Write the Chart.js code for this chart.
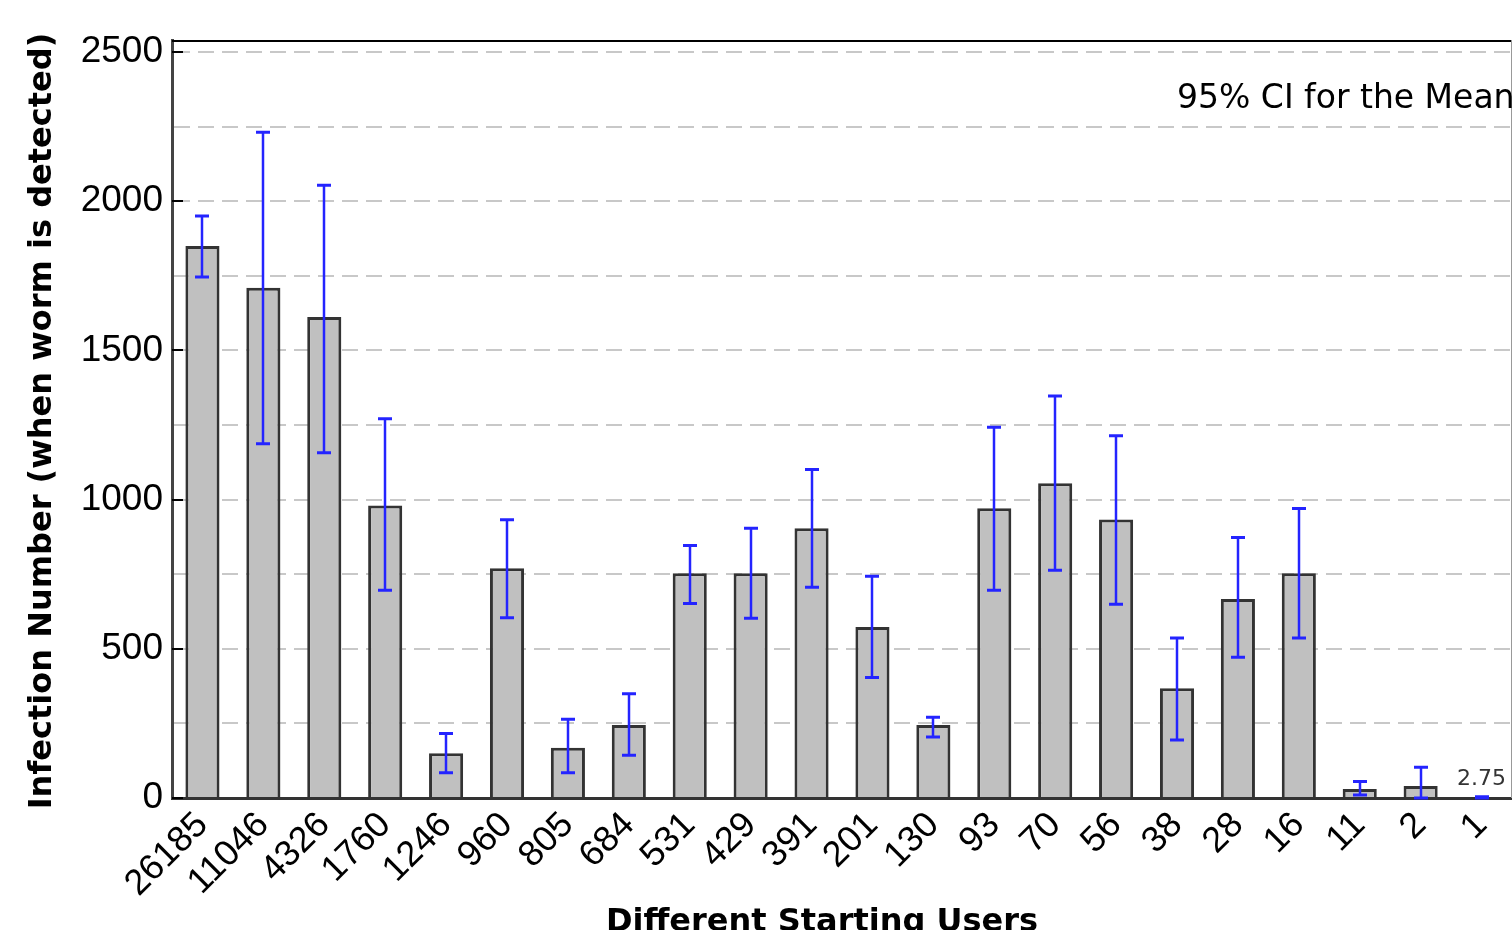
<!DOCTYPE html>
<html>
<head>
<meta charset="utf-8">
<title>Infection Number by Starting Users</title>
<script src="https://cdn.jsdelivr.net/npm/chart.js@4.4.1/dist/chart.umd.min.js"></script>
<style>
  html, body { margin: 0; padding: 0; background: #fff; }
  #wrap { width: 1512px; height: 930px; }
</style>
</head>
<body>
<div id="wrap"><canvas id="ciChart" width="1512" height="930"></canvas></div>
<script>
// starting users (x categories)
const categories = ['26185', '11046', '4326', '1760', '1246', '960', '805', '684', '531', '429', '391',
  '201', '130', '93', '70', '56', '38', '28', '16', '11', '2', '1'];
// mean infection number when worm is detected
const means = [1850, 1710, 1612, 980, 150, 770, 168, 245, 753, 753, 904, 573, 245, 971, 1055, 933, 368, 667, 753, 30, 40, 2.75];
// 95% CI bounds
const ciLow = [1746, 1187, 1157, 696, 85, 604, 85, 143, 652, 602, 706, 404, 204, 696, 763, 649, 194, 472, 536, 10, 0, 0];
const ciHigh = [1950, 2231, 2053, 1271, 216, 932, 264, 349, 846, 904, 1101, 743, 271, 1242, 1347, 1214, 536, 873, 970, 55, 103, 4];
// labelled ticks and dashed grid values
const yTickLabels = [0, 500, 1000, 1500, 2000, 2500];
const yGridValues = [0, 250, 500, 750, 1000, 1250, 1500, 1750, 2000, 2250, 2500];

const tickFont = "'Liberation Sans', Arial, sans-serif";
const titleFont = "'DejaVu Sans', Verdana, sans-serif";

const errorBars = {
  id: 'errorBars',
  afterDatasetsDraw(chart) {
    const ctx = chart.ctx;
    const y = chart.scales.y;
    const meta = chart.getDatasetMeta(0);
    ctx.save();
    ctx.strokeStyle = '#2424ff';
    meta.data.forEach((bar, i) => {
      const x = Math.round(bar.x);
      const yHi = y.getPixelForValue(ciHigh[i]);
      const yLo = y.getPixelForValue(ciLow[i]);
      ctx.lineWidth = 2.5;
      ctx.beginPath();
      ctx.moveTo(x, yHi);
      ctx.lineTo(x, yLo);
      ctx.stroke();
      ctx.lineWidth = 3;
      ctx.beginPath();
      ctx.moveTo(x - 7, yHi); ctx.lineTo(x + 7, yHi);
      ctx.moveTo(x - 7, yLo); ctx.lineTo(x + 7, yLo);
      ctx.stroke();
    });
    // value label over the last bar
    const last = meta.data[meta.data.length - 1];
    ctx.fillStyle = '#333';
    ctx.font = "22px " + titleFont;
    ctx.textAlign = 'center';
    ctx.textBaseline = 'alphabetic';
    ctx.fillText(String(means[means.length - 1]), last.x, y.getPixelForValue(ciHigh[ciHigh.length - 1]) - 12);
    ctx.restore();
  }
};

const frame = {
  id: 'frame',
  afterDraw(chart) {
    const ctx = chart.ctx;
    const a = chart.chartArea;
    const y = chart.scales.y;
    ctx.save();
    // top and right border
    ctx.strokeStyle = '#000';
    ctx.lineWidth = 2;
    ctx.beginPath();
    ctx.moveTo(a.left, a.top + 1);
    ctx.lineTo(a.right, a.top + 1);
    ctx.stroke();
    ctx.strokeStyle = '#999';
    ctx.lineWidth = 1;
    ctx.beginPath();
    ctx.moveTo(a.right - 0.5, a.top);
    ctx.lineTo(a.right - 0.5, a.bottom);
    ctx.stroke();
    // inner tick marks on the y axis
    ctx.strokeStyle = '#000';
    ctx.lineWidth = 2;
    yTickLabels.forEach(v => {
      const py = Math.round(y.getPixelForValue(v));
      ctx.beginPath();
      ctx.moveTo(a.left, py);
      ctx.lineTo(a.left + 11, py);
      ctx.stroke();
    });
    // annotation
    ctx.fillStyle = '#000';
    ctx.font = "33px " + titleFont;
    ctx.textAlign = 'left';
    ctx.textBaseline = 'alphabetic';
    ctx.fillText('95% CI for the Mean', 1177, 108);
    // axis titles
    ctx.font = "bold 32px " + titleFont;
    ctx.textAlign = 'center';
    ctx.fillText('Different Starting Users', 822, 931);
    ctx.translate(51, 421);
    ctx.rotate(-Math.PI / 2);
    ctx.fillText('Infection Number (when worm is detected)', 0, 0);
    ctx.restore();
  }
};

new Chart(document.getElementById('ciChart'), {
  type: 'bar',
  data: {
    labels: categories,
    datasets: [{
      label: 'Infection Number',
      data: means,
      backgroundColor: '#c0c0c0',
      borderColor: '#333333',
      borderWidth: 3,
      categoryPercentage: 1,
      barPercentage: 0.56
    }]
  },
  options: {
    responsive: false,
    animation: false,
    layout: { padding: { top: 40, right: 0, left: 0, bottom: 0 } },
    plugins: {
      legend: { display: false },
      tooltip: { enabled: false }
    },
    scales: {
      x: {
        afterFit: function(scale) {
          scale.height = 132;
          scale.paddingLeft = 0;
          scale.paddingRight = 0;
        },
        grid: { display: false, drawTicks: false },
        border: { color: '#333', width: 3 },
        ticks: {
          color: '#000',
          font: { family: tickFont, size: 36 },
          padding: 6,
          minRotation: 45,
          maxRotation: 45,
          autoSkip: false
        }
      },
      y: {
        min: 0,
        max: 2540,
        afterBuildTicks: function(scale) {
          scale.ticks = yGridValues.map(v => ({ value: v }));
        },
        afterFit: function(scale) {
          scale.width = 172;
          scale.paddingTop = 0;
          scale.paddingBottom = 0;
        },
        grid: {
          drawTicks: false,
          lineWidth: 2,
          color: function(c) {
            const v = c.tick ? c.tick.value : 0;
            return v > 0 ? '#c8c8c8' : 'rgba(0,0,0,0)';
          }
        },
        border: { color: '#444', width: 3, dash: [16, 8] },
        ticks: {
          autoSkip: false,
          color: '#000',
          padding: 9,
          font: { family: tickFont, size: 37 },
          callback: function(v) { return yTickLabels.includes(v) ? String(v) : ''; }
        }
      }
    }
  },
  plugins: [errorBars, frame]
});
</script>
</body>
</html>
